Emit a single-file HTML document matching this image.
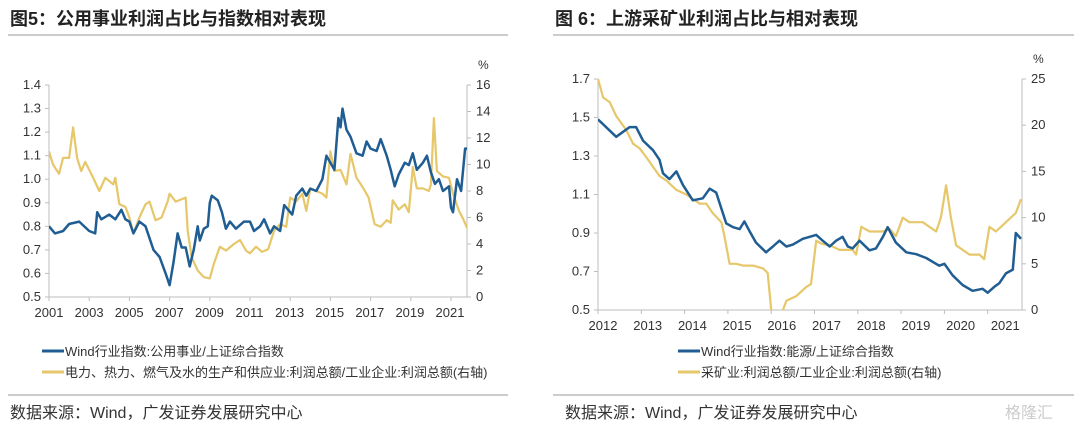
<!DOCTYPE html>
<html><head><meta charset="utf-8"><style>
body{margin:0;background:#fff;width:1080px;height:429px;overflow:hidden;font-family:"Liberation Sans","Noto Sans CJK SC",sans-serif}
svg{display:block}
</style></head><body>
<svg id="s" width="1080" height="429" xmlns="http://www.w3.org/2000/svg">
<text x="10" y="25" font-size="18" font-weight="bold" fill="#222" font-family="Liberation Sans,Noto Sans CJK SC,sans-serif">图5：公用事业利润占比与指数相对表现</text>
<text x="555" y="25" font-size="18" font-weight="bold" fill="#222" font-family="Liberation Sans,Noto Sans CJK SC,sans-serif">图 6：上游采矿业利润占比与相对表现</text>
<line x1="8" y1="35" x2="508" y2="35" stroke="#999" stroke-width="1"/>
<line x1="553" y1="35" x2="1074" y2="35" stroke="#999" stroke-width="1"/>
<line x1="8" y1="395" x2="508" y2="395" stroke="#999" stroke-width="1"/>
<line x1="553" y1="395" x2="1074" y2="395" stroke="#999" stroke-width="1"/>
<text x="10" y="418" font-size="16" fill="#333">数据来源：Wind，广发证券发展研究中心</text>
<text x="565" y="418" font-size="16" fill="#333">数据来源：Wind，广发证券发展研究中心</text>
<text x="1005" y="418" font-size="16" fill="#ccc">格隆汇</text>
</svg>
<script>
// Left chart data
const lYears=[2001,2001.3,2001.7,2002,2002.5,2003,2003.3,2003.4,2003.6,2004,2004.3,2004.6,2004.8,2005,2005.2,2005.5,2005.8,2006.2,2006.5,2006.8,2007,2007.2,2007.4,2007.6,2007.8,2008,2008.2,2008.4,2008.5,2008.7,2008.9,2009,2009.1,2009.4,2009.6,2009.8,2010,2010.3,2010.7,2011,2011.2,2011.5,2011.7,2012,2012.2,2012.5,2012.7,2013,2013.1,2013.3,2013.6,2013.8,2014,2014.3,2014.6,2014.8,2015,2015.2,2015.4,2015.5,2015.6,2015.8,2016,2016.3,2016.6,2016.8,2017,2017.3,2017.5,2017.8,2018,2018.2,2018.4,2018.7,2018.9,2019.1,2019.3,2019.6,2019.8,2020,2020.2,2020.4,2020.6,2020.9,2021,2021.1,2021.3,2021.5,2021.7,2021.8];
const lBlue=[0.80,0.77,0.78,0.81,0.82,0.78,0.77,0.86,0.83,0.85,0.83,0.87,0.83,0.82,0.77,0.82,0.80,0.70,0.67,0.60,0.55,0.65,0.77,0.71,0.71,0.63,0.70,0.80,0.74,0.79,0.80,0.90,0.93,0.91,0.86,0.79,0.82,0.79,0.82,0.82,0.78,0.80,0.83,0.77,0.80,0.78,0.89,0.86,0.85,0.93,0.96,0.93,0.96,0.95,1.00,1.10,1.07,1.04,1.26,1.22,1.30,1.21,1.18,1.11,1.10,1.16,1.13,1.12,1.17,1.10,1.04,0.97,1.02,1.07,1.06,1.11,1.04,1.07,1.10,1.03,0.98,1.00,0.95,0.97,0.88,0.86,1.00,0.95,1.13,1.13];
const lYYears=[2001,2001.2,2001.5,2001.7,2002,2002.2,2002.4,2002.6,2002.8,2003.2,2003.5,2003.8,2004.2,2004.3,2004.5,2004.8,2005,2005.2,2005.5,2005.8,2006,2006.3,2006.6,2006.9,2007,2007.3,2007.8,2007.9,2008.1,2008.4,2008.7,2009,2009.2,2009.5,2009.8,2010.2,2010.5,2010.8,2011,2011.3,2011.6,2011.9,2012.2,2012.5,2012.8,2013,2013.3,2013.6,2013.8,2014,2014.3,2014.6,2014.8,2015,2015.2,2015.5,2015.8,2016,2016.3,2016.6,2016.9,2017.2,2017.5,2017.8,2018,2018.1,2018.4,2018.7,2018.9,2019.1,2019.3,2019.6,2019.9,2020,2020.15,2020.3,2020.6,2020.9,2021.1,2021.4,2021.6,2021.8];
const lYellow=[11,10,9.3,10.5,10.5,12.8,10.5,9.5,10.2,9,8,9,8.5,9,7,6.8,6,4.8,6,7,7.2,5.8,6,7.2,7.8,7.2,7.5,5,3,2,1.5,1.4,2.5,3.8,3.5,4,4.3,3.5,3.3,3.8,3.4,3.6,5,5.5,5.3,7.5,7.2,7.8,6.5,8.2,8,7.8,7.5,11,9.5,9.6,8.5,10.8,9,8.3,7.5,5.5,5.3,5.8,5.6,7.3,6.6,7,6.4,9.8,8.2,8.2,8,8.5,13.5,9.5,9.1,9,7.8,6.5,5.9,5.2];
const lLeftTicks=[0.5,0.6,0.7,0.8,0.9,1.0,1.1,1.2,1.3,1.4];
const lRightTicks=[0,2,4,6,8,10,12,14,16];
const lXTicks=[2001,2003,2005,2007,2009,2011,2013,2015,2017,2019,2021];
// Right chart data
const rYears=[2012,2012.42,2012.73,2012.88,2013.04,2013.27,2013.42,2013.5,2013.65,2013.81,2013.96,2014.19,2014.42,2014.58,2014.73,2014.96,2015.12,2015.27,2015.38,2015.5,2015.65,2015.88,2016.04,2016.19,2016.35,2016.5,2016.73,2017.04,2017.19,2017.35,2017.5,2017.65,2017.77,2017.88,2018.04,2018.27,2018.42,2018.58,2018.69,2018.88,2019.12,2019.35,2019.58,2019.88,2020,2020.19,2020.42,2020.65,2020.88,2021,2021.15,2021.27,2021.42,2021.58,2021.65,2021.77];
const rBlue=[1.49,1.40,1.45,1.45,1.38,1.33,1.28,1.21,1.18,1.22,1.15,1.07,1.08,1.13,1.11,0.95,0.93,0.92,0.96,0.91,0.85,0.80,0.83,0.86,0.83,0.84,0.87,0.89,0.86,0.83,0.86,0.88,0.83,0.82,0.86,0.81,0.82,0.88,0.93,0.85,0.80,0.79,0.77,0.73,0.74,0.68,0.63,0.60,0.61,0.59,0.62,0.64,0.69,0.71,0.90,0.87];
const rYYears=[2012,2012.12,2012.27,2012.42,2012.65,2012.81,2012.96,2013.12,2013.27,2013.42,2013.58,2013.81,2014.04,2014.19,2014.35,2014.5,2014.65,2014.85,2014.92,2015.04,2015.19,2015.35,2015.58,2015.81,2015.92,2016.02,2016.19,2016.35,2016.58,2016.81,2016.92,2017.04,2017.15,2017.35,2017.58,2017.88,2017.96,2018.08,2018.27,2018.42,2018.58,2018.73,2018.88,2019.04,2019.19,2019.5,2019.81,2019.92,2020.04,2020.15,2020.27,2020.58,2020.81,2020.92,2021.04,2021.19,2021.42,2021.65,2021.77];
const rYellow=[25,23,22.5,21,19.5,18,17.5,16.5,15.5,14.5,14,13,12.5,12,11.5,11.5,10.5,9.5,8,5,5,4.8,4.8,4.5,4,-1,-1,1,1.5,2.5,2.8,7.5,7.2,7,6.5,6.5,6,9,8.5,8.5,8.5,8.8,8,10,9.5,9.5,8.5,10,13.5,10,7,6,6,5.5,9,8.5,9.5,10.5,12];
const rLeftTicks=[0.5,0.7,0.9,1.1,1.3,1.5,1.7];
const rRightTicks=[0,5,10,15,20,25];
const rXTicks=[2012,2013,2014,2015,2016,2017,2018,2019,2020,2021];

const NS='http://www.w3.org/2000/svg', svg=document.getElementById('s');
function mk(tag,attrs,txt){const e=document.createElementNS(NS,tag);for(const k in attrs)e.setAttribute(k,attrs[k]);if(txt!=null)e.textContent=txt;svg.appendChild(e);return e;}
const BLUE='#1f5d93', YEL='#e6c76a', AX='#bdbdbd';

function chart(c){
  const xS=y=>c.x0+(y-c.y0)*c.xStep;
  const yL=v=>c.bot-(v-c.lMin)/(c.lMax-c.lMin)*(c.bot-c.top);
  const yR=v=>c.bot-(v-c.rMin)/(c.rMax-c.rMin)*(c.bot-c.top);
  const clip=mk('clipPath',{id:c.id+'clip'});
  const r=document.createElementNS(NS,'rect');r.setAttribute('x',c.x0);r.setAttribute('y',c.top-5);r.setAttribute('width',c.x1-c.x0);r.setAttribute('height',c.bot-c.top+5);clip.appendChild(r);
  let e=mk('line',{x1:c.x0,y1:c.top,x2:c.x0,y2:c.bot,stroke:AX});
  
  e=mk('line',{x1:c.x1,y1:c.top,x2:c.x1,y2:c.bot,stroke:AX});
  
  e=mk('line',{x1:c.x0,y1:c.bot,x2:c.x1,y2:c.bot,stroke:AX});
  
  c.lt.forEach(v=>{mk('line',{x1:c.x0-4,x2:c.x0,y1:yL(v),y2:yL(v),stroke:AX});
    e=mk('text',{x:c.x0-8,y:yL(v)+4,'text-anchor':'end','font-size':13,fill:'#333'},v.toFixed(1));
    });
  c.rt.forEach(v=>{mk('line',{x1:c.x1,x2:c.x1+4,y1:yR(v),y2:yR(v),stroke:AX});
    e=mk('text',{x:c.x1+9,y:yR(v)+4,'font-size':13,fill:'#333'},String(v));
    });
  e=mk('text',{x:c.x1+11,y:c.top-16,'font-size':12,fill:'#333'},'%');
  
  c.xt.forEach((v,i)=>{mk('line',{x1:xS(v),x2:xS(v),y1:c.bot,y2:c.bot+4,stroke:AX});
    e=mk('text',{x:c.labX0+i*c.labStep,y:c.bot+20,'text-anchor':'middle','font-size':13,fill:'#333'},String(v));
    });
  const yp=c.yY.map((y,i)=>xS(y).toFixed(1)+','+yR(c.yV[i]).toFixed(1)).join(' ');
  e=mk('polyline',{points:yp,fill:'none',stroke:YEL,'stroke-width':2.2,'clip-path':'url(#'+c.id+'clip)','stroke-linejoin':'round'});
  
  const bp=c.bY.map((y,i)=>xS(y).toFixed(1)+','+yL(c.bV[i]).toFixed(1)).join(' ');
  e=mk('polyline',{points:bp,fill:'none',stroke:BLUE,'stroke-width':2.5,'clip-path':'url(#'+c.id+'clip)','stroke-linejoin':'round'});
  
  e=mk('line',{x1:c.legX,x2:c.legX+22,y1:351,y2:351,stroke:BLUE,'stroke-width':3});
  
  e=mk('text',{x:c.legX+23,y:356,'font-size':13,fill:'#333'},c.leg1);
  
  e=mk('line',{x1:c.legX,x2:c.legX+22,y1:372,y2:372,stroke:YEL,'stroke-width':3});
  
  e=mk('text',{x:c.legX+23,y:377,'font-size':13,fill:'#333'},c.leg2);
  
}
chart({id:'left',x0:49,x1:467,top:85,bot:297,y0:2001,xStep:20.1,lMin:0.5,lMax:1.4,rMin:0,rMax:16,
  lt:lLeftTicks,rt:lRightTicks,xt:lXTicks,labX0:49,labStep:40.1,bY:lYears,bV:lBlue,yY:lYYears,yV:lYellow,
  legX:42,leg1:'Wind行业指数:公用事业/上证综合指数',leg2:'电力、热力、燃气及水的生产和供应业:利润总额/工业企业:利润总额(右轴)'});
chart({id:'right',x0:598,x1:1022,top:79,bot:310,y0:2012,xStep:43.3,lMin:0.5,lMax:1.7,rMin:0,rMax:25,
  lt:rLeftTicks,rt:rRightTicks,xt:rXTicks,labX0:603,labStep:44.7,bY:rYears,bV:rBlue,yY:rYYears,yV:rYellow,
  legX:678,leg1:'Wind行业指数:能源/上证综合指数',leg2:'采矿业:利润总额/工业企业:利润总额(右轴)'});
</script>
</body></html>
